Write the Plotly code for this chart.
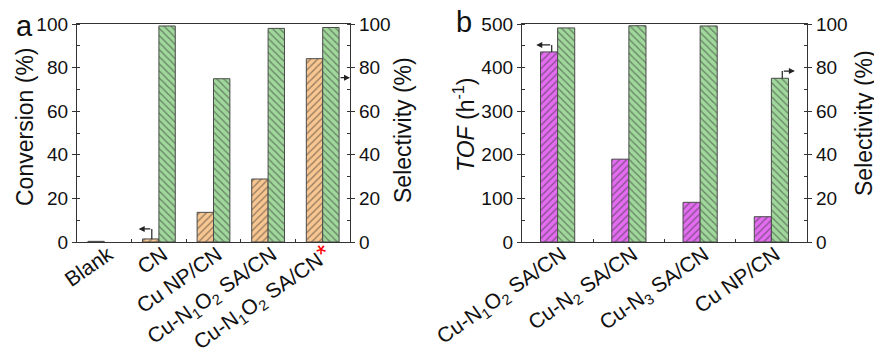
import plotly.graph_objects as go

# ---------------- data ----------------
cats_a = ["Blank", "CN", "Cu NP/CN", "Cu-N1O2 SA/CN", "Cu-N1O2 SA/CN*"]
ticks_a = ["Blank", "CN", "Cu NP/CN",
           "Cu-N<sub>1</sub>O<sub>2</sub> SA/CN",
           "Cu-N<sub>1</sub>O<sub>2</sub> SA/CN<span style='color:red;font-size:26px'>*</span>"]
conversion = [0.3, 1.4, 13.6, 28.9, 84.1]
selectivity_a = [None, 99.1, 74.9, 98.0, 98.4]

cats_b = ["Cu-N1O2 SA/CN", "Cu-N2 SA/CN", "Cu-N3 SA/CN", "Cu NP/CN"]
ticks_b = ["Cu-N<sub>1</sub>O<sub>2</sub> SA/CN", "Cu-N<sub>2</sub> SA/CN",
           "Cu-N<sub>3</sub> SA/CN", "Cu NP/CN"]
tof = [436, 190, 91, 58]
selectivity_b = [98.2, 99.2, 99.1, 75.1]

# ---------------- style ----------------
W, H = 874, 356
FONT = "Liberation Sans, Arial, sans-serif"
ORANGE = "#F8C690"
GREEN = "#A0D89B"
MAGENTA = "#E36CF1"
HATCH = "#333333"
EDGE = "#4a4a4a"
AX = "#333333"

def px_x(p):
    return p / W

def px_y(p):
    return 1 - p / H

fig = go.Figure()

def bar(x, y, color, shape, offset, width, xa, ya):
    return go.Bar(
        x=x, y=y, xaxis=xa, yaxis=ya, offset=offset, width=width,
        marker=dict(color=color, line=dict(color=EDGE, width=1),
                    pattern=dict(shape=shape, fgcolor=HATCH, bgcolor=color,
                                 size=5, solidity=0.28, fillmode="overlay")),
        showlegend=False, hoverinfo="x+y")

fig.add_trace(bar(cats_a, conversion, ORANGE, "/", -0.3, 0.3, "x", "y"))
fig.add_trace(bar(cats_a, selectivity_a, GREEN, "\\", 0.0, 0.3, "x", "y2"))
fig.add_trace(bar(cats_b, tof, MAGENTA, "/", -0.24, 0.24, "x2", "y3"))
fig.add_trace(bar(cats_b, selectivity_b, GREEN, "\\", 0.0, 0.24, "x2", "y4"))

dom_y = [px_y(242), px_y(24)]
dom_a = [px_x(77), px_x(350)]
dom_b = [px_x(522), px_x(807)]

tickfont = dict(family=FONT, size=19, color="#111")
catfont = dict(family=FONT, size=21, color="#111")

def xaxis(dom, cats, texts, anchor):
    return dict(domain=dom, anchor=anchor, type="category", automargin=False,
                range=[-0.5, len(cats) - 0.5], tickmode="array",
                tickvals=cats, ticktext=texts, tickangle=-35,
                ticklabelstandoff=-9, ticklabelshift=4,
                tickfont=catfont, showline=True, linecolor=AX, linewidth=1.3,
                mirror=True, ticks="inside", tickson="boundaries",
                ticklen=3, tickcolor=AX, showgrid=False, zeroline=False)

def yaxis(dom, rng, dtick, side, anchor, overlay=None):
    d = dict(domain=dom, range=rng, dtick=dtick, side=side, anchor=anchor,
             automargin=False,
             showline=True, linecolor=AX, linewidth=1.3, ticks="outside",
             ticklen=4, tickcolor=AX, tickfont=tickfont, showgrid=False,
             zeroline=False,
             minor=dict(ticks="inside", ticklen=3, dtick=dtick / 2,
                        tickcolor=AX, showgrid=False))
    if overlay:
        d["overlaying"] = overlay
    return d

fig.update_layout(
    width=W, height=H, margin=dict(l=0, r=0, t=0, b=0, autoexpand=False),
    paper_bgcolor="white", plot_bgcolor="rgba(0,0,0,0)",
    barmode="overlay",
    xaxis=xaxis(dom_a, cats_a, ticks_a, "y"),
    yaxis=yaxis(dom_y, [0, 100], 20, "left", "x"),
    yaxis2=yaxis(dom_y, [0, 100], 20, "right", "x", "y"),
    xaxis2=xaxis(dom_b, cats_b, ticks_b, "y3"),
    yaxis3=yaxis(dom_y, [0, 500], 100, "left", "x2"),
    yaxis4=yaxis(dom_y, [0, 100], 20, "right", "x2", "y3"),
)

# ---------------- titles / labels ----------------
title_font = dict(family=FONT, size=23, color="#111")
def vtitle(text, xpx, ypx):
    fig.add_annotation(text=text, xref="paper", yref="paper",
                       x=px_x(xpx), y=px_y(ypx), xanchor="center",
                       yanchor="middle", textangle=-90, showarrow=False,
                       font=title_font)

vtitle("Conversion (%)", 25, 127)
vtitle("Selectivity (%)", 403, 130)
vtitle("<i>TOF</i> (h<sup>-1</sup>)", 464, 125)
vtitle("Selectivity (%)", 864, 123)

letter_font = dict(family=FONT, size=29, color="#111")
fig.add_annotation(text="a", xref="paper", yref="paper", x=px_x(24), y=px_y(26),
                   xanchor="center", yanchor="middle", showarrow=False, font=letter_font)
fig.add_annotation(text="b", xref="paper", yref="paper", x=px_x(464), y=px_y(22),
                   xanchor="center", yanchor="middle", showarrow=False, font=letter_font)

# ---------------- pointer arrows ----------------
def pointer(xa, ya, x0, y0, y1, xhead):
    fig.add_shape(type="line", xref=xa, yref=ya, x0=x0, x1=x0, y0=y0, y1=y1,
                  line=dict(color="#222", width=1.2))
    fig.add_annotation(xref=xa, yref=ya, axref=xa, ayref=ya, x=xhead, y=y1,
                       ax=x0, ay=y1, text="", showarrow=True, arrowhead=2,
                       arrowsize=1, arrowwidth=1.2, arrowcolor="#222",
                       standoff=0, startstandoff=0)

pointer("x", "y", 0.87, conversion[1], 6.0, 0.63)
fig.add_annotation(xref="x", yref="y2", axref="x", ayref="y2", x=4.5, y=75.4,
                   ax=4.3, ay=75.4, text="", showarrow=True, arrowhead=2,
                   arrowsize=1, arrowwidth=1.2, arrowcolor="#222",
                   standoff=0, startstandoff=0)
pointer("x2", "y3", -0.083, tof[0], 452, -0.30)
pointer("x2", "y4", 3.153, selectivity_b[3], 78.4, 3.33)

fig.write_html("out.html")
